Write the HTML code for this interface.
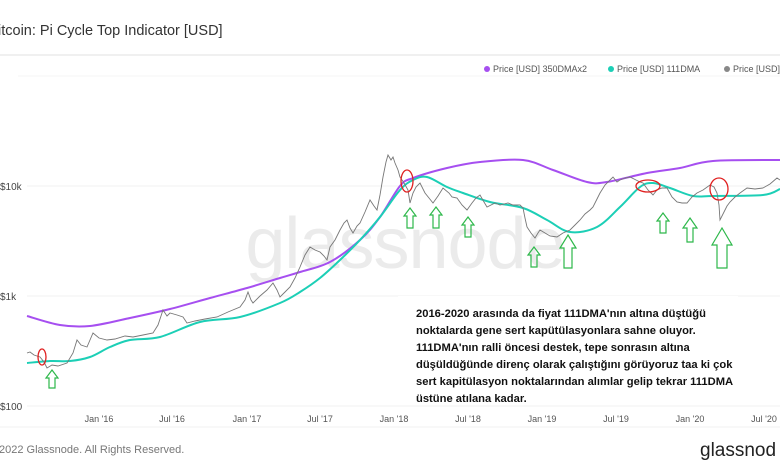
<!DOCTYPE html>
<html><head><meta charset="utf-8"><style>
body{margin:0;background:#fff;width:780px;height:470px;overflow:hidden;font-family:"Liberation Sans",sans-serif}
svg{display:block}
</style></head><body>
<svg id="s" width="780" height="470" viewBox="0 0 780 470" font-family="Liberation Sans, sans-serif">
<text x="-2" y="35" font-size="14.5" fill="#333">itcoin: Pi Cycle Top Indicator [USD]</text>
<line x1="0" y1="55" x2="780" y2="55" stroke="#f0f0f0" stroke-width="2"/>
<line x1="18" y1="76" x2="780" y2="76" stroke="#f4f4f4"/>
<g font-size="9" fill="#555">
<circle cx="487" cy="69" r="3" fill="#a64ff0"/><text x="493" y="72">Price [USD] 350DMAx2</text>
<circle cx="611" cy="69" r="3" fill="#1ccfb6"/><text x="617" y="72">Price [USD] 111DMA</text>
<circle cx="727" cy="69" r="3" fill="#888"/><text x="733" y="72">Price [USD]</text>
</g>
<g stroke="#f2f2f2"><line x1="27" y1="186" x2="780" y2="186"/><line x1="27" y1="296" x2="780" y2="296"/><line x1="27" y1="406" x2="780" y2="406"/><line x1="0" y1="427" x2="780" y2="427"/></g>
<g font-size="10" fill="#444"><text x="0" y="190">$10k</text><text x="0" y="300">$1k</text><text x="0" y="410">$100</text></g>
<g font-size="9" fill="#555" text-anchor="middle">
<text x="99" y="422">Jan '16</text><text x="172" y="422">Jul '16</text><text x="247" y="422">Jan '17</text><text x="320" y="422">Jul '17</text><text x="394" y="422">Jan '18</text><text x="468" y="422">Jul '18</text><text x="542" y="422">Jan '19</text><text x="616" y="422">Jul '19</text><text x="690" y="422">Jan '20</text><text x="764" y="422">Jul '20</text>
</g>
<text x="405" y="268" font-size="72" fill="#ebebeb" text-anchor="middle" letter-spacing="-1">glassnode</text>
<polyline class="sm" fill="none" stroke="#a64ff0" stroke-width="2" points="27,316 60,325 90,326 130,318 170,309 210,298 247,288 280,278 300,272 330,262 360,240 380,217 400,186 413,178 447,168 480,162 523,160 553,170 587,182 607,182 647,173 680,168 713,161 780,160"/>
<polyline class="sm" fill="none" stroke="#1ccfb6" stroke-width="2" points="27,363 50,361 70,361 90,357 110,347 130,340 160,337 200,322 240,317 280,303 300,292 320,278 340,260 360,240 380,217 400,190 413,180 427,177 447,187 463,193 490,202 523,208 547,220 570,232 597,227 620,207 640,187 653,183 670,188 693,196 713,196 763,195 780,189"/>
<polyline fill="none" stroke="#777" stroke-width="0.9" points="27,353 30,352 34,355 40,357 44,362 47,368 52,365 58,366 67,363 73,353 77,340 81,345 87,347 93,333 99,338 107,340 115,339 125,336 133,337 143,335 153,333 158,325 163,310 167,316 170,313 177,315 183,317 187,323 195,321 205,319 217,317 228,312 240,307 245,300 248,292 251,300 253,303 260,296 267,290 273,283 277,290 280,297 285,292 290,287 295,278 300,267 305,255 310,247 315,250 320,252 324,256 327,260 330,247 335,240 340,230 344,223 347,220 350,228 353,233 357,226 360,223 365,212 370,200 374,206 377,210 380,195 383,177 386,162 388,155 391,160 393,157 395,163 398,170 400,177 404,183 408,190 410,203 413,193 416,187 420,183 425,193 429,198 433,203 438,196 443,188 449,193 452,197 457,198 462,205 467,210 472,203 476,198 480,195 484,202 487,207 495,203 500,205 508,203 513,205 520,205 523,208 525,218 527,227 531,233 535,238 538,233 540,230 545,233 550,236 557,237 563,233 570,230 575,225 580,220 585,214 590,210 593,207 597,199 600,193 605,185 610,180 613,177 617,182 620,180 625,178 630,177 636,180 640,182 643,183 648,190 653,195 657,190 662,188 667,188 672,197 677,202 682,203 687,203 692,197 697,193 703,190 710,185 714,187 717,193 719,205 720,220 724,212 727,206 730,202 735,197 740,193 747,188 755,189 763,188 770,184 777,178 780,180"/>
<g fill="none" stroke="#e02020" stroke-width="1.3">
<ellipse cx="42" cy="357" rx="4" ry="8"/><ellipse cx="407" cy="181" rx="6" ry="11"/><ellipse cx="648" cy="186" rx="12" ry="6"/><ellipse cx="719" cy="189" rx="9" ry="11"/>
</g>
<g fill="none" stroke="#2db84a" stroke-width="1.2">
<path d="M52,370 L58,378 L55,378 L55,388 L49,388 L49,378 L46,378 Z"/>
<path d="M410,208 L416,216 L413,216 L413,228 L407,228 L407,216 L404,216 Z"/>
<path d="M436,207 L442,215 L439,215 L439,228 L433,228 L433,215 L430,215 Z"/>
<path d="M468,217 L474,225 L471,225 L471,237 L465,237 L465,225 L462,225 Z"/>
<path d="M534,247 L540,255 L537,255 L537,267 L531,267 L531,255 L528,255 Z"/>
<path d="M568,235 L576,248 L572,248 L572,268 L564,268 L564,248 L560,248 Z"/>
<path d="M663,213 L669,221 L666,221 L666,233 L660,233 L660,221 L657,221 Z"/>
<path d="M690,218 L697,228 L693,228 L693,242 L687,242 L687,228 L683,228 Z"/>
<path d="M722,228 L732,245 L727,245 L727,268 L717,268 L717,245 L712,245 Z"/>
</g>
<rect x="398" y="296" width="340" height="108" fill="#fff"/>
<g font-size="11.2" font-weight="bold" fill="#111">
<text x="416" y="317">2016-2020 arasında da fiyat 111DMA'nın altına düştüğü</text>
<text x="416" y="334">noktalarda gene sert kapütülasyonlara sahne oluyor.</text>
<text x="416" y="351">111DMA'nın ralli öncesi destek, tepe sonrasın altına</text>
<text x="416" y="368">düşüldüğünde direnç olarak çalıştığını görüyoruz taa ki çok</text>
<text x="416" y="385">sert kapitülasyon noktalarından alımlar gelip tekrar 111DMA</text>
<text x="416" y="402">üstüne atılana kadar.</text>
</g>
<text x="-1" y="453" font-size="11" fill="#777">2022 Glassnode. All Rights Reserved.</text>
<text x="700" y="456" font-size="19" fill="#222">glassnod</text>
</svg>
<script>
document.querySelectorAll('polyline.sm').forEach(function(pl){
 var p=pl.getAttribute('points').trim().split(/\s+/).map(function(s){return s.split(',').map(Number)});
 var d='M'+p[0][0]+','+p[0][1];
 for(var i=0;i<p.length-1;i++){
  var p0=p[i-1]||p[i],p1=p[i],p2=p[i+1],p3=p[i+2]||p2;
  var c1x=p1[0]+(p2[0]-p0[0])/6,c1y=p1[1]+(p2[1]-p0[1])/6,c2x=p2[0]-(p3[0]-p1[0])/6,c2y=p2[1]-(p3[1]-p1[1])/6;
  d+=' C'+c1x+','+c1y+' '+c2x+','+c2y+' '+p2[0]+','+p2[1];
 }
 var path=document.createElementNS('http://www.w3.org/2000/svg','path');
 ['fill','stroke','stroke-width'].forEach(function(a){path.setAttribute(a,pl.getAttribute(a))});
 path.setAttribute('d',d);
 pl.parentNode.replaceChild(path,pl);
});
</script>
</body></html>
